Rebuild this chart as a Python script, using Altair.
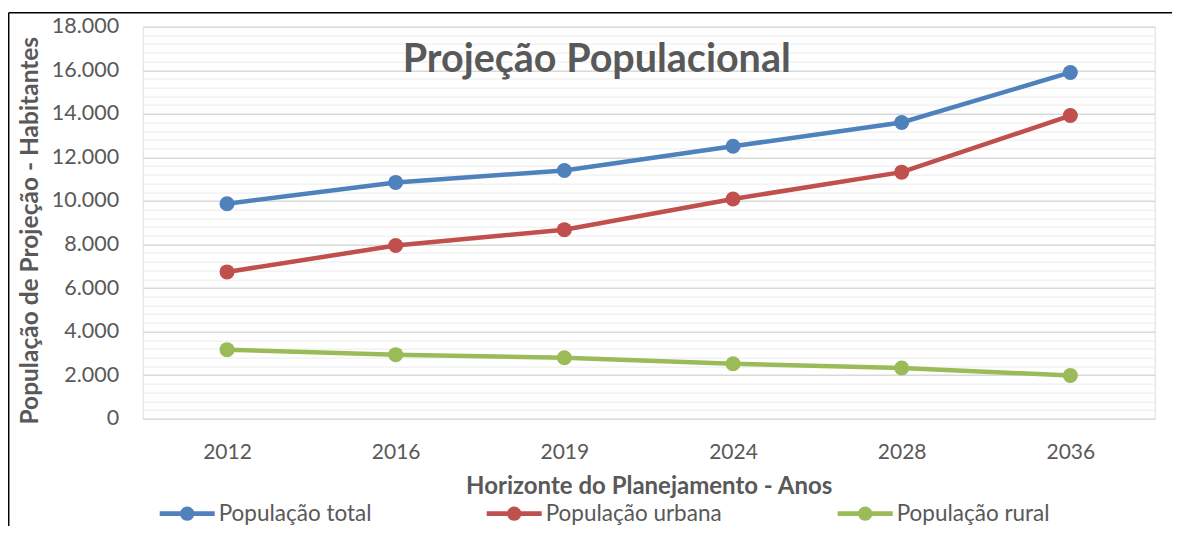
import math
import altair as alt
import pandas as pd

years = ["2012", "2016", "2019", "2024", "2028", "2036"]
pop_total = [9870, 10850, 11400, 12510, 13600, 15900]
pop_urbana = [6740, 7950, 8680, 10090, 11320, 13920]
pop_rural = [3170, 2940, 2800, 2520, 2330, 1980]
series_names = ["População total", "População urbana", "População rural"]
series_colors = ["#4F81BD", "#C0504D", "#9BBB59"]

rows = []
for name, vals in zip(series_names, [pop_total, pop_urbana, pop_rural]):
    for y, v in zip(years, vals):
        rows.append({"Ano": y, "Serie": name, "Valor": v})
df = pd.DataFrame(rows)

FONT = "Lato"
GRAY = "#595959"
W, H = 1012, 392

# legend glyph: horizontal bar with a dot in the middle (unit box -1..1)
r = 0.26
poly = " ".join(("M" if i == 0 else "L") + f"{r*math.cos(2*math.pi*i/24):.4f},{r*math.sin(2*math.pi*i/24):.4f}"
                for i in range(24)) + "Z"
legend_path = "M-1,-0.085L1,-0.085L1,0.085L-1,0.085Z " + poly

color_scale = alt.Scale(domain=series_names, range=series_colors)
legend = alt.Legend(title=None, orient="none", legendX=17, legendY=459.5,
                    direction="horizontal", columns=3, columnPadding=115,
                    symbolType=legend_path, symbolSize=3025,
                    symbolStrokeWidth=0, symbolOpacity=1,
                    symbolFillColor="#000000",
                    labelFont=FONT, labelFontSize=22.5, labelColor=GRAY,
                    labelOffset=4, labelLimit=400)

x_enc = alt.X("Ano:O", sort=years,
              scale=alt.Scale(paddingInner=0, paddingOuter=0.5),
              axis=alt.Axis(title="Horizonte do Planejamento - Anos", labelAngle=0,
                            domain=False, ticks=False, labelPadding=23,
                            labelFont=FONT, labelFontSize=21, labelColor=GRAY,
                            titleFont=FONT, titleFontSize=24, titleFontWeight="bold",
                            titleColor=GRAY, titlePadding=12))

y_vals = list(range(0, 18001, 400))
y_enc = alt.Y("Valor:Q",
              scale=alt.Scale(domain=[0, 18000], nice=False),
              axis=alt.Axis(title="População de Projeção - Habitantes",
                            values=y_vals, domain=False, ticks=False,
                            labelOverlap=False, labelPadding=24,
                            labelExpr="datum.value % 2000 === 0 ? replace(format(datum.value, ',d'), ',', '.') : ''",
                            labelFont=FONT, labelFontSize=21.5, labelColor=GRAY,
                            titleFont=FONT, titleFontSize=24.5, titleFontWeight="bold",
                            titleColor=GRAY, titlePadding=9, titleY=203.5,
                            gridColor={"condition": {"test": "datum.value % 2000 === 0", "value": "#D9D9D9"},
                                       "value": "#EFEFEF"},
                            gridWidth={"condition": {"test": "datum.value % 2000 === 0", "value": 1.5},
                                       "value": 1.2}))

color_enc = alt.Color("Serie:N", scale=color_scale, sort=series_names, legend=legend)

base = alt.Chart(df)

lines = base.mark_line(strokeWidth=4.5).encode(
    x=x_enc, y=y_enc, color=color_enc, detail="Serie:N",
)

points = base.mark_point(filled=True, size=225, opacity=1, strokeWidth=0).encode(
    x=x_enc, y=y_enc, color=color_enc,
)

one = alt.Data(values=[{"a": 1}])
title_txt = alt.Chart(one).mark_text(
    text="Projeção Populacional", font=FONT, fontSize=39.5, fontWeight="bold",
    color=GRAY, align="center", baseline="alphabetic"
).encode(x=alt.value(454), y=alt.value(45.5))

frame_top = alt.Chart(one).mark_rule(color="#000000", strokeWidth=1.5).encode(
    x=alt.value(-134), x2=alt.value(1200), y=alt.value(-14))
frame_left = alt.Chart(one).mark_rule(color="#000000", strokeWidth=1.5).encode(
    x=alt.value(-134), y=alt.value(-14), y2=alt.value(700))

chart = alt.layer(lines, points, title_txt, frame_top, frame_left).properties(
    width=W, height=H,
    autosize=alt.AutoSizeParams(type="none"),
    padding={"left": 134.7, "top": 18.7, "right": 17, "bottom": 107},
).configure_view(stroke=None).configure(background="white")

chart.save("out.html", embed_options={"renderer": "svg", "actions": False})
